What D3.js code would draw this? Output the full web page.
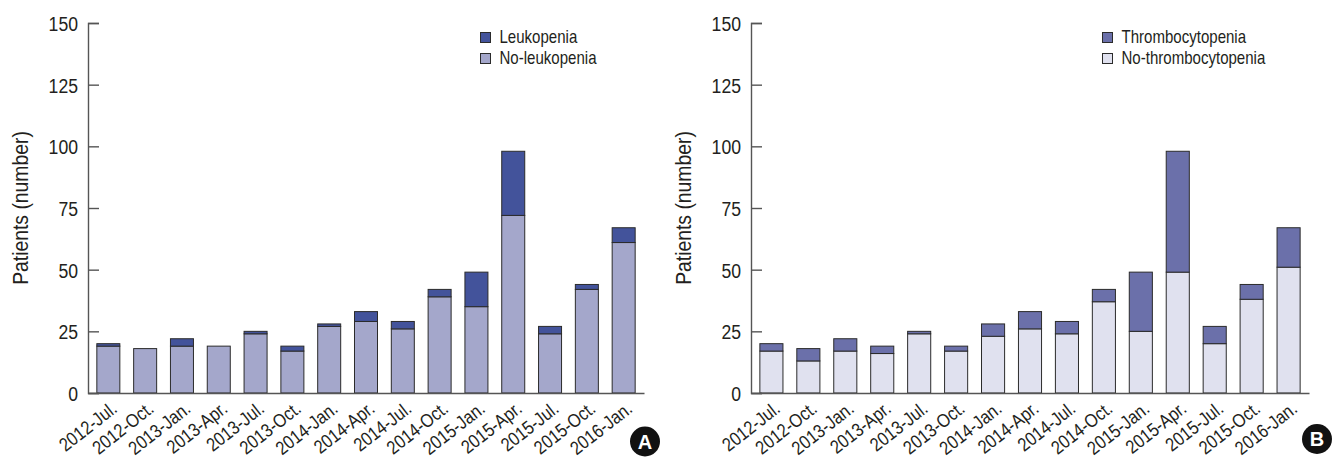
<!DOCTYPE html>
<html>
<head>
<meta charset="utf-8">
<script src="https://cdn.jsdelivr.net/npm/d3@7"></script>
<style>
  html, body { margin: 0; padding: 0; background: #fff; }
  svg { display: block; }
  text { font-family: "Liberation Sans", Arial, Helvetica, sans-serif; fill: #231f20; }
</style>
</head>
<body>
<svg id="chart" width="1333" height="461"></svg>
<script>
const categories = ["2012-Jul.", "2012-Oct.", "2013-Jan.", "2013-Apr.", "2013-Jul.", "2013-Oct.", "2014-Jan.", "2014-Apr.", "2014-Jul.", "2014-Oct.", "2015-Jan.", "2015-Apr.", "2015-Jul.", "2015-Oct.", "2016-Jan."];
const noLeukopenia = [19, 18, 19, 19, 24, 17, 27, 29, 26, 39, 35, 72, 24, 42, 61];
const leukopenia = [1, 0, 3, 0, 1, 2, 1, 4, 3, 3, 14, 26, 3, 2, 6];
const noThrombocytopenia = [17, 13, 17, 16, 24, 17, 23, 26, 24, 37, 25, 49, 20, 38, 51];
const thrombocytopenia = [3, 5, 5, 3, 1, 2, 5, 7, 5, 5, 24, 49, 7, 6, 16];
const yTicks = [0, 25, 50, 75, 100, 125, 150];

const svg = d3.select("#chart");
const SX = 0.86; // condensed look

function panel(opts) {
  const g = svg.append("g");
  const x = d3.scaleBand().domain(categories).range([opts.x0, opts.x1]).paddingInner(0.375).paddingOuter(0.24);
  const y = d3.scaleLinear().domain([0, 150]).range([393, 23]);

  // bars
  const stacked = categories.map((c, i) => ({ c, lower: opts.lower[i], upper: opts.upper[i] }));
  const bars = g.append("g");
  stacked.forEach(d => {
    if (d.lower > 0) {
      bars.append("rect").attr("x", x(d.c)).attr("width", x.bandwidth())
        .attr("y", y(d.lower)).attr("height", y(0) - y(d.lower))
        .attr("fill", opts.lowerColor).attr("stroke", "#2b2b2b").attr("stroke-width", 1);
    }
    if (d.upper > 0) {
      bars.append("rect").attr("x", x(d.c)).attr("width", x.bandwidth())
        .attr("y", y(d.lower + d.upper)).attr("height", y(d.lower) - y(d.lower + d.upper))
        .attr("fill", opts.upperColor).attr("stroke", "#2b2b2b").attr("stroke-width", 1);
    }
  });

  // y axis (ticks pointing inward)
  const yAxis = g.append("g").attr("transform", `translate(${opts.x0},0)`)
    .call(d3.axisRight(y).tickValues(yTicks).tickSize(11).tickFormat(d3.format("d")));
  yAxis.select(".domain").attr("stroke", "#555").attr("stroke-width", 1.4);
  yAxis.selectAll(".tick line").attr("stroke", "#555").attr("stroke-width", 1.4);
  yAxis.selectAll(".tick text").attr("x", 0).attr("text-anchor", "end").attr("dy", "0.36em")
    .attr("transform", `translate(-10,0) scale(${SX},1)`)
    .style("font-size", "20.5px").style("fill", "#231f20");

  // x axis
  const xAxis = g.append("g").attr("transform", `translate(0,393)`)
    .call(d3.axisBottom(x).tickSize(0).tickSizeOuter(0));
  xAxis.select(".domain").attr("stroke", "#555").attr("stroke-width", 1.4);
  xAxis.selectAll(".tick text")
    .attr("text-anchor", "end")
    .attr("transform", `translate(10,18) rotate(-38) scale(${SX},1)`)
    .attr("x", 0).attr("y", 0).attr("dy", 0)
    .style("font-size", "19px").style("fill", "#231f20");

  // axis title
  g.append("text").attr("transform", `translate(${opts.titleX},208) rotate(-90) scale(${SX},1)`)
    .attr("text-anchor", "middle").style("font-size", "22.5px").text("Patients (number)");

  // legend
  const leg = g.append("g");
  const items = [{ label: opts.upperLabel, color: opts.upperColor }, { label: opts.lowerLabel, color: opts.lowerColor }];
  items.forEach((it, i) => {
    leg.append("rect").attr("x", opts.legendX).attr("y", 32.5 + i * 21).attr("width", 10).attr("height", 10)
      .attr("fill", it.color).attr("stroke", "#2b2b2b").attr("stroke-width", 1);
    leg.append("text").attr("transform", `translate(${opts.legendX + 19},${42.5 + i * 21}) scale(${SX},1)`)
      .style("font-size", "17.5px").text(it.label);
  });

  // panel badge
  const b = g.append("g").attr("transform", `translate(${opts.badgeX},${opts.badgeY})`);
  b.append("circle").attr("r", 15).attr("fill", "#111");
  b.append("text").attr("text-anchor", "middle").attr("dy", "0.36em")
    .style("font-weight", "bold").style("font-size", "20px").style("fill", "#fff").text(opts.badge);
}

panel({
  x0: 88, x1: 644,
  lower: noLeukopenia, upper: leukopenia,
  lowerColor: "#a4a7cb", upperColor: "#43539b",
  lowerLabel: "No-leukopenia", upperLabel: "Leukopenia",
  legendX: 480.5, titleX: 28, badge: "A", badgeX: 645, badgeY: 441.5
});
panel({
  x0: 751, x1: 1309,
  lower: noThrombocytopenia, upper: thrombocytopenia,
  lowerColor: "#e0e1ef", upperColor: "#6b70aa",
  lowerLabel: "No-thrombocytopenia", upperLabel: "Thrombocytopenia",
  legendX: 1102.5, titleX: 691, badge: "B", badgeX: 1317, badgeY: 439
});
</script>
</body>
</html>
